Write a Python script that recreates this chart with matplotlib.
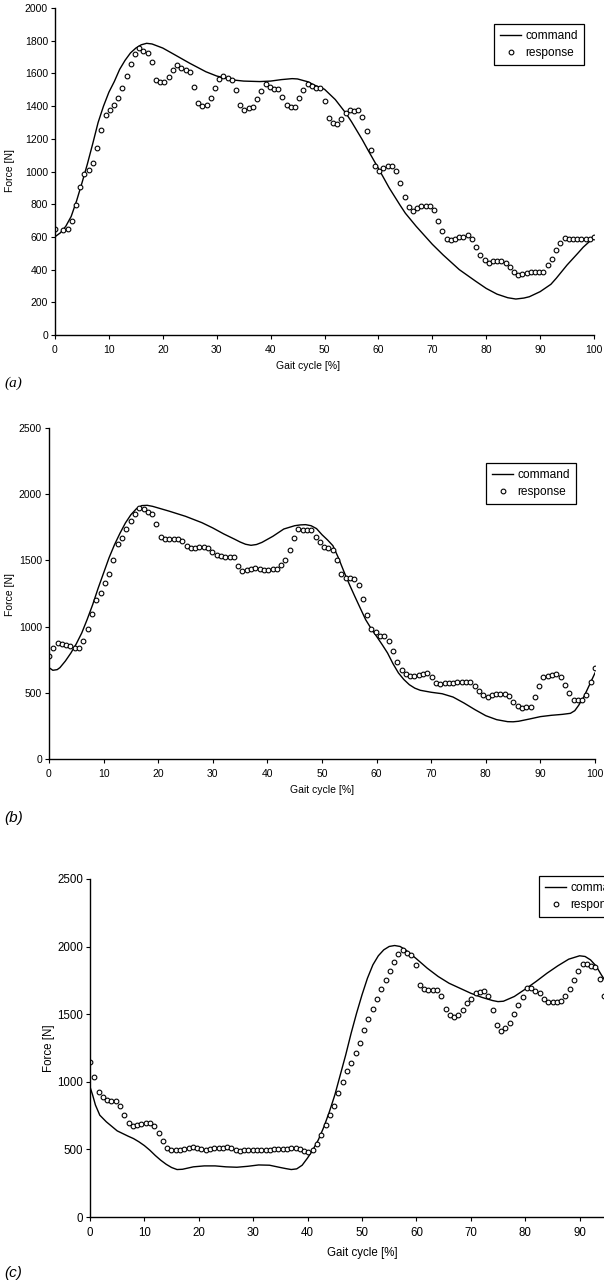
import numpy as np
import matplotlib
matplotlib.use("Agg")
import matplotlib.pyplot as plt
from matplotlib.patches import Rectangle

plt.rcParams['font.family'] = ['Liberation Sans', 'DejaVu Sans']

# ---- panel (a) ----
cmd_a_x = [0, 1, 2, 3, 4, 5, 6, 7, 8, 9, 10, 11, 12, 13, 14, 15, 16, 17, 18, 20,
           22, 25, 28, 30, 33, 35, 38, 40, 42, 44, 45, 47, 48, 50, 52, 54, 55, 57,
           58, 60, 62, 64, 65, 67, 70, 72, 75, 78, 80, 82, 84, 85.5, 87, 88, 90,
           92, 93, 95, 97, 98, 100]
cmd_a_y = [601, 625, 665, 725, 820, 930, 1045, 1170, 1300, 1400, 1485, 1550, 1625,
           1680, 1725, 1755, 1775, 1784, 1780, 1755, 1718, 1662, 1610, 1584, 1560,
           1553, 1550, 1553, 1562, 1568, 1566, 1548, 1530, 1503, 1440, 1355, 1305,
           1195, 1135, 1019, 900, 795, 745, 665, 555, 490, 400, 330, 285, 250, 228,
           220, 226, 234, 265, 310, 347, 428, 500, 537, 597]
resp_a = [646, 642, 646, 695, 795, 903, 983, 1009, 1054, 1142,
          1254, 1348, 1376, 1405, 1450, 1509, 1584, 1657, 1719, 1753,
          1739, 1723, 1668, 1560, 1545, 1547, 1580, 1621, 1651, 1633,
          1619, 1607, 1515, 1417, 1401, 1407, 1448, 1511, 1564, 1584,
          1572, 1558, 1501, 1409, 1376, 1386, 1397, 1442, 1492, 1535,
          1515, 1505, 1505, 1458, 1409, 1392, 1397, 1448, 1498, 1535,
          1523, 1509,
          1509, 1433, 1327, 1299, 1291, 1319, 1356, 1376, 1368, 1376,
          1335, 1248, 1131, 1036, 1003, 1019, 1032, 1036, 1005, 932,
          842, 781, 758, 775, 789, 791, 791, 762, 697, 634,
          587, 581, 589, 597, 601, 614, 587, 540, 487, 459,
          440, 453, 453, 453, 442, 414, 383, 367, 375, 379,
          383, 383, 383, 387, 426, 465, 520, 565, 593, 585,
          585, 589, 589, 589, 589, 599]
resp_a_x = np.delete(np.linspace(0, 100, 129), 1)

# ---- panel (b) ----
cmd_b_x = [0, 0.7, 1.5, 2, 3, 4, 5, 6, 7, 8, 9, 10, 11, 12, 13, 14, 15, 16, 17, 18,
           19, 20, 22, 25, 28, 30, 32, 34, 35, 36, 37, 38, 39, 41, 43, 45, 46, 47,
           48, 49, 50, 51, 52, 53, 54, 55, 56, 57, 58, 59, 60, 61, 62, 63, 64, 65,
           66, 67, 68, 70, 72, 74, 76, 78, 80, 82, 84, 85, 86, 88, 90, 92, 94, 95.5,
           96.3, 97, 98, 99, 100]
cmd_b_y = [690, 670, 675, 690, 740, 800, 870, 952, 1055, 1166, 1290, 1405, 1520,
           1619, 1705, 1783, 1845, 1890, 1914, 1916, 1908, 1896, 1872, 1833, 1785,
           1745, 1700, 1660, 1639, 1622, 1614, 1620, 1636, 1682, 1737, 1762, 1768,
           1770, 1762, 1740, 1694, 1655, 1611, 1520, 1417, 1320, 1229, 1140, 1052,
           985, 926, 865, 801, 720, 650, 600, 561, 535, 519, 504, 493, 468, 423,
           373, 327, 297, 282, 281, 285, 302, 320, 330, 337, 345, 365, 405, 473,
           561, 650]
resp_b = [775, 841, 876, 869, 861, 853, 836, 836, 889, 979,
          1098, 1201, 1251, 1327, 1397, 1500, 1624, 1669, 1740, 1798,
          1853, 1898, 1888, 1866, 1850, 1777, 1677, 1662, 1664, 1664,
          1664, 1649, 1611, 1596, 1596, 1599, 1604, 1596, 1563, 1543,
          1531, 1528, 1528, 1528, 1460, 1420, 1430, 1438, 1443, 1433,
          1430, 1430, 1435, 1433, 1465, 1506, 1581, 1667, 1740, 1732,
          1727, 1732, 1677, 1636,
          1599, 1594, 1576, 1500, 1397, 1367, 1365, 1362, 1312, 1208,
          1085, 982, 962, 932, 932, 889, 816, 735, 670, 645,
          629, 629, 637, 645, 652, 617, 574, 569, 577, 574,
          574, 579, 584, 584, 584, 551, 516, 481, 471, 483,
          488, 488, 488, 478, 431, 398, 383, 393, 395, 468,
          554, 617, 629, 634, 639, 617, 559, 498, 448, 443,
          443, 483, 582, 685]
resp_b_x = np.linspace(0, 100, 128)

# ---- panel (c) ----
cmd_c_x = [0, 0.5, 1, 1.8, 3, 5, 7, 8, 9, 10, 11, 12, 13, 14, 15, 16, 17, 18, 19,
           21, 23, 25, 27, 29, 31, 33, 35, 36, 37, 38, 39, 40, 41, 42, 43, 44, 45,
           46, 47, 48, 49, 50, 51, 52, 53, 54, 55, 56, 57, 58, 60, 62, 64, 66, 68,
           70, 72, 74, 75, 76, 78, 80, 82, 84, 86, 88, 90, 91, 92, 93, 94, 95]
cmd_c_y = [963, 900, 828, 753, 704, 637, 598, 580, 556, 528, 494, 455, 420, 390,
           366, 351, 353, 362, 371, 378, 378, 371, 368, 375, 385, 383, 366, 358,
           351, 356, 383, 437, 499, 573, 667, 778, 902, 1050, 1198, 1359, 1507,
           1643, 1766, 1865, 1932, 1976, 2001, 2008, 2001, 1976, 1910, 1840, 1779,
           1729, 1692, 1655, 1625, 1601, 1593, 1596, 1631, 1685, 1742, 1803, 1858,
           1907, 1932, 1927, 1902, 1858, 1791, 1729]
resp_c = [1146, 1033, 926, 889, 867, 855, 855, 818, 758, 692,
          674, 684, 689, 694, 692, 672, 623, 561, 509, 499,
          497, 497, 504, 511, 516, 514, 504, 494, 506, 509,
          511, 514, 519, 514, 499, 487, 494, 494, 494, 494,
          497, 499, 499, 504, 506, 506, 506, 514, 514, 504,
          489, 484, 499, 539,
          603, 679, 753, 823, 914, 1001, 1080, 1139, 1211, 1287,
          1381, 1462, 1542, 1611, 1687, 1754, 1823, 1885, 1944, 1974,
          1956, 1937, 1865, 1714, 1685, 1680, 1680, 1682, 1635, 1537,
          1495, 1477, 1492, 1532, 1586, 1611, 1660, 1665, 1670, 1635,
          1532, 1420, 1378, 1396, 1438, 1502, 1567, 1626, 1692, 1692,
          1675, 1660, 1611, 1591, 1589, 1591, 1596, 1631, 1690, 1754,
          1823, 1873, 1868, 1858, 1848, 1764, 1631]
resp_c_x = np.linspace(0, 100, 128)[:len(resp_c)]

W, H = 612, 1287
fig = plt.figure(figsize=(W / 100, H / 100), dpi=100)


def px_axes(l, r, t, b):
    return fig.add_axes([l / W, 1 - b / H, (r - l) / W, (b - t) / H])


panels = [
    # axes box (px), ymax, ystep, data, legend top-left (px), xlabel centre, fontsize
    dict(box=(55, 594, 8, 335), ymax=2000, ystep=200, xmax_tick=100,
         cmd=(cmd_a_x, cmd_a_y), resp=(resp_a_x, resp_a),
         leg=(494, 24), xlab=(308, 366), ylab=(10, 171), fs=7.5, tag='(a)',
         tagpos=(4, 383), tagfam='Liberation Serif'),
    dict(box=(49, 595, 428, 759), ymax=2500, ystep=500, xmax_tick=100,
         cmd=(cmd_b_x, cmd_b_y), resp=(resp_b_x, resp_b),
         leg=(486, 463), xlab=(322, 790), ylab=(10, 594), fs=7.5, tag='(b)',
         tagpos=(4, 818), tagfam='Liberation Sans'),
    # panel (c) runs past the right edge of the picture, as in the source
    dict(box=(90, 634, 879, 1217), ymax=2500, ystep=500, xmax_tick=90,
         cmd=(cmd_c_x, cmd_c_y), resp=(resp_c_x, resp_c),
         leg=(539, 876), xlab=(362, 1253), ylab=(49, 1048), fs=8.3, tag='(c)',
         tagpos=(4, 1273), tagfam='Liberation Sans'),
]

for p in panels:
    l, r, t, b = p['box']
    ax = px_axes(l, r, t, b)
    fs = p['fs']
    ax.plot(*p['cmd'], color='black', lw=1.0, label='command')
    ax.plot(*p['resp'], ls='none', marker='o', ms=3.4, mfc='white', mec='black',
            mew=0.8, label='response')
    ax.set_xlim(0, 100)
    ax.set_ylim(0, p['ymax'])
    ax.set_xticks(np.arange(0, p['xmax_tick'] + 1, 10))
    ax.set_yticks(np.arange(0, p['ymax'] + 1, p['ystep']))
    for s in ['top', 'right']:
        ax.spines[s].set_visible(False)
    for s in ['left', 'bottom']:
        ax.spines[s].set_linewidth(1.0)
    ax.tick_params(direction='out', length=3, width=0.8, labelsize=fs)
    ax.tick_params(axis='x', pad=4)
    ax.tick_params(axis='y', pad=2)
    ax.patch.set_alpha(0)

    leg = ax.legend(loc='upper left', bbox_to_anchor=(p['leg'][0] / W, 1 - p['leg'][1] / H),
                    bbox_transform=fig.transFigure, borderaxespad=0, fontsize=8.6,
                    numpoints=1, handlelength=1.8, handletextpad=0.35, borderpad=0.5,
                    labelspacing=0.4, fancybox=False, framealpha=1)
    leg.get_frame().set_edgecolor('black')
    leg.get_frame().set_linewidth(0.9)

    fig.text(p['xlab'][0] / W, 1 - p['xlab'][1] / H, 'Gait cycle [%]', fontsize=fs,
             ha='center', va='center')
    fig.text(p['ylab'][0] / W, 1 - p['ylab'][1] / H, 'Force [N]', fontsize=fs,
             ha='center', va='center', rotation=90)
    fig.text(p['tagpos'][0] / W, 1 - p['tagpos'][1] / H, p['tag'], fontsize=11,
             family=p['tagfam'], style='italic', ha='left', va='center')

# the source image is cut off on the right of panel (c)
fig.add_artist(Rectangle((604 / W, 1 - 1245 / H), 10 / W, 390 / H,
                         transform=fig.transFigure, facecolor='white',
                         edgecolor='none', zorder=10))

fig.savefig('out.png', dpi=100)
